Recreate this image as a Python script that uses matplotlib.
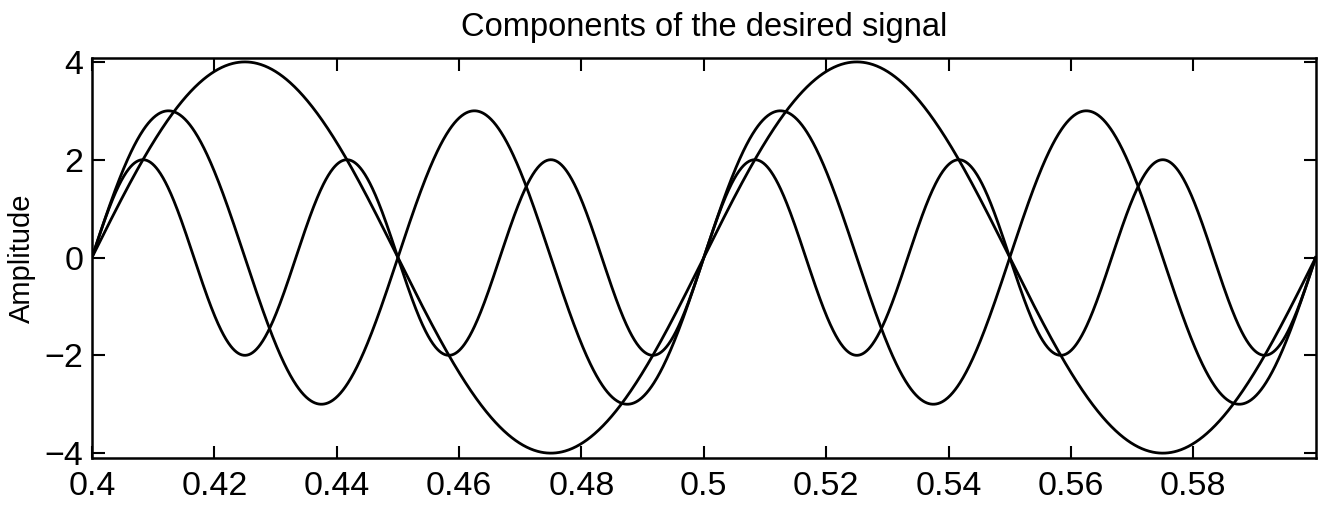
import numpy as np
import matplotlib
matplotlib.use("Agg")
import matplotlib.pyplot as plt

plt.rcParams['font.family'] = ['Liberation Sans', 'DejaVu Sans']

# sinusoidal components: amplitude and frequency (Hz)
amplitudes = [4, 3, 2]
frequencies = [10, 20, 30]
t_start, t_stop = 0.4, 0.6
xticks = [0.4, 0.42, 0.44, 0.46, 0.48, 0.5, 0.52, 0.54, 0.56, 0.58]
xtick_labels = ['0.4', '0.42', '0.44', '0.46', '0.48', '0.5', '0.52', '0.54', '0.56', '0.58']
yticks = [-4, -2, 0, 2, 4]

t = np.linspace(t_start, t_stop, 2000)

fig = plt.figure(figsize=(13.23, 5.07), dpi=100)
ax = fig.add_axes([0.0695, 0.0966, 0.925, 0.789])

for a, f in zip(amplitudes, frequencies):
    ax.plot(t, a * np.sin(2 * np.pi * f * t), color='black', lw=2.0)

ax.set_xlim(t_start, t_stop)
ax.set_ylim(-4.1, 4.08)
ax.set_xticks(xticks)
ax.set_xticklabels(xtick_labels)
ax.set_yticks(yticks)
ax.set_yticklabels(['\u22124', '\u22122', '0', '2', '4'])

ax.tick_params(direction='in', length=9, width=1.5, labelsize=24.5,
               top=True, right=True, pad=6)
ax.tick_params(axis='x', pad=9)
for s in ax.spines.values():
    s.set_linewidth(1.8)

ax.set_ylabel('Amplitude', fontsize=21, labelpad=6)
ax.set_title('Components of the desired signal', fontsize=23.5, pad=16)

fig.savefig('out.png', dpi=100)
